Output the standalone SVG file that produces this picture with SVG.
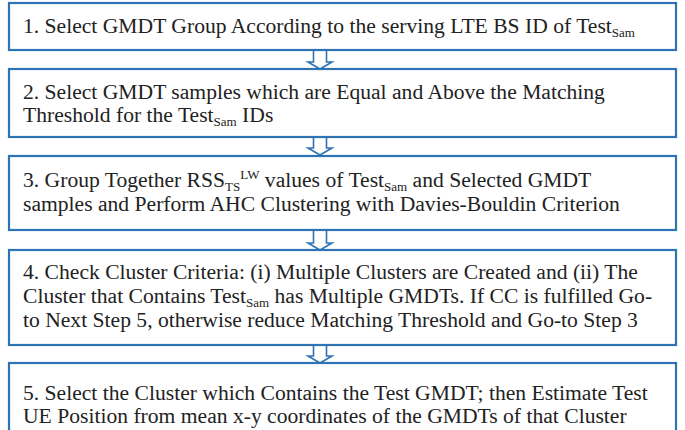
<svg xmlns="http://www.w3.org/2000/svg" width="685" height="430" viewBox="0 0 685 430">
<style>
.box{fill:#fff;stroke:#2E74B5;stroke-width:2.2}
.arr{fill:#fff;stroke:#2E74B5;stroke-width:1.6;stroke-linejoin:miter}
.t{font-size:21.6px;fill:#222}
.sub{font-size:13px}
</style>
<rect width="685" height="430" fill="#fff"/>
<g id="connectors">
<polygon class="arr" points="313.5,50 326.5,50 326.5,62 332,62 320,69 308,62 313.5,62"/>
<polygon class="arr" points="313.5,137 326.5,137 326.5,148 332,148 320,155 308,148 313.5,148"/>
<polygon class="arr" points="313.5,230 326.5,230 326.5,243 332,243 320,250 308,243 313.5,243"/>
<polygon class="arr" points="313.5,345 326.5,345 326.5,356 332,356 320,363 308,356 313.5,356"/>
</g>
<g font-family="Liberation Serif, Times New Roman, serif">
<g id="step1">
<rect class="box" x="9" y="3" width="667" height="47"/>
<text class="t" x="23" y="33">1. Select GMDT Group According to the serving LTE BS ID of Test<tspan class="sub" dy="4">Sam</tspan></text>
</g>
<g id="step2">
<rect class="box" x="9" y="69" width="667" height="68"/>
<text class="t" x="23" y="99">2. Select GMDT samples which are Equal and Above the Matching</text>
<text class="t" x="23" y="122">Threshold for the Test<tspan class="sub" dy="4">Sam</tspan><tspan dy="-4"> IDs</tspan></text>
</g>
<g id="step3">
<rect class="box" x="9" y="156" width="667" height="74"/>
<text class="t" x="23" y="187">3. Group Together RSS<tspan class="sub" dy="4">TS</tspan><tspan class="sub" dy="-12">LW</tspan><tspan dy="8"> values of Test</tspan><tspan class="sub" dy="4">Sam</tspan><tspan dy="-4"> and Selected GMDT</tspan></text>
<text class="t" x="23" y="211">samples and Perform AHC Clustering with Davies-Bouldin Criterion</text>
</g>
<g id="step4">
<rect class="box" x="9" y="250" width="667" height="95"/>
<text class="t" x="23" y="279">4. Check Cluster Criteria: (i) Multiple Clusters are Created and (ii) The</text>
<text class="t" x="23" y="303">Cluster that Contains Test<tspan class="sub" dy="4">Sam</tspan><tspan dy="-4"> has Multiple GMDTs. If CC is fulfilled Go-</tspan></text>
<text class="t" x="23" y="327">to Next Step 5, otherwise reduce Matching Threshold and Go-to Step 3</text>
</g>
<g id="step5">
<rect class="box" x="9" y="363" width="667" height="72"/>
<text class="t" x="23" y="400">5. Select the Cluster which Contains the Test GMDT; then Estimate Test</text>
<text class="t" x="23" y="423">UE Position from mean x-y coordinates of the GMDTs of that Cluster</text>
</g>
</g>
</svg>
